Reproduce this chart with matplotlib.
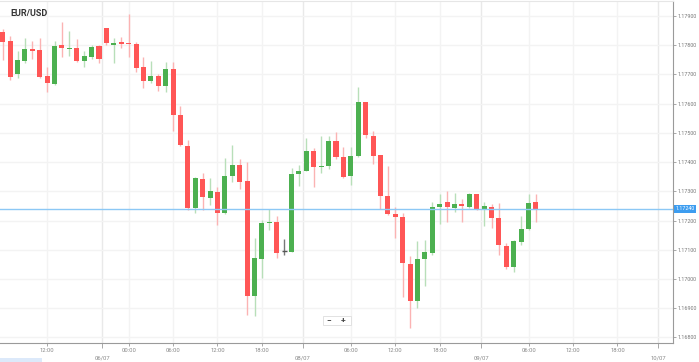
import numpy as np
import matplotlib.pyplot as plt
from matplotlib.patches import Rectangle

plt.rcParams['font.family'] = ['Roboto', 'DejaVu Sans']

# hourly EUR/USD candles
opens = [1.17846, 1.17815, 1.17701, 1.17746, 1.17787, 1.17784, 1.17695, 1.17667, 1.17801, 1.17786,
         1.17791, 1.17746, 1.17759, 1.17797, 1.17858, 1.17801, 1.17812, 1.17809, 1.17803, 1.17726,
         1.17677, 1.17696, 1.17660, 1.17718, 1.17562, 1.17456, 1.17242, 1.17342, 1.17278, 1.17299,
         1.17225, 1.17353, 1.17390, 1.17336, 1.16942, 1.17067, 1.17190, 1.17196, 1.17096, 1.17093,
         1.17358, 1.17370, 1.17438, 1.17383, 1.17388, 1.17472, 1.17416, 1.17352, 1.17421, 1.17605,
         1.17490, 1.17424, 1.17284, 1.17221, 1.17213, 1.17050, 1.16924, 1.17068, 1.17089, 1.17247,
         1.17264, 1.17244, 1.17256, 1.17245, 1.17290, 1.17236, 1.17247, 1.17207, 1.17114, 1.17040,
         1.17127, 1.17170, 1.17262]
highs = [1.17856, 1.17833, 1.17781, 1.17826, 1.17814, 1.17826, 1.17726, 1.17814, 1.17880, 1.17850,
         1.17821, 1.17781, 1.17801, 1.17801, 1.17859, 1.17826, 1.17829, 1.17907, 1.17812, 1.17759,
         1.17747, 1.17701, 1.17744, 1.17741, 1.17592, 1.17475, 1.17348, 1.17364, 1.17344, 1.17314,
         1.17413, 1.17458, 1.17409, 1.17401, 1.17139, 1.17202, 1.17238, 1.17215, 1.17137, 1.17379,
         1.17390, 1.17481, 1.17447, 1.17489, 1.17490, 1.17504, 1.17451, 1.17451, 1.17658, 1.17607,
         1.17507, 1.17425, 1.17388, 1.17247, 1.17225, 1.17078, 1.17130, 1.17133, 1.17263, 1.17290,
         1.17301, 1.17293, 1.17272, 1.17295, 1.17291, 1.17262, 1.17255, 1.17259, 1.17122, 1.17133,
         1.17216, 1.17290, 1.17290]
lows = [1.17749, 1.17681, 1.17687, 1.17738, 1.17753, 1.17687, 1.17641, 1.17665, 1.17759, 1.17764,
        1.17744, 1.17726, 1.17753, 1.17738, 1.17801, 1.17740, 1.17789, 1.17759, 1.17709, 1.17652,
        1.17670, 1.17644, 1.17641, 1.17507, 1.17456, 1.17236, 1.17225, 1.17236, 1.17253, 1.17184,
        1.17223, 1.17333, 1.17308, 1.16876, 1.16873, 1.17004, 1.17167, 1.17073, 1.17082, 1.17091,
        1.17319, 1.17368, 1.17314, 1.17364, 1.17376, 1.17410, 1.17346, 1.17321, 1.17419, 1.17481,
        1.17393, 1.17238, 1.17219, 1.17141, 1.16939, 1.16831, 1.16901, 1.16976, 1.17082, 1.17188,
        1.17196, 1.17228, 1.17196, 1.17243, 1.17236, 1.17181, 1.17173, 1.17082, 1.17034, 1.17023,
        1.17116, 1.17168, 1.17196]
closes = [1.17812, 1.17690, 1.17749, 1.17787, 1.17780, 1.17690, 1.17670, 1.17798, 1.17789, 1.17791,
          1.17746, 1.17764, 1.17793, 1.17752, 1.17809, 1.17807, 1.17804, 1.17803, 1.17723, 1.17677,
          1.17695, 1.17661, 1.17719, 1.17561, 1.17458, 1.17242, 1.17344, 1.17279, 1.17301, 1.17227,
          1.17353, 1.17390, 1.17331, 1.16942, 1.17071, 1.17192, 1.17196, 1.17088, 1.17096, 1.17358,
          1.17370, 1.17438, 1.17384, 1.17388, 1.17472, 1.17416, 1.17348, 1.17421, 1.17605, 1.17493,
          1.17422, 1.17284, 1.17221, 1.17213, 1.17053, 1.16924, 1.17068, 1.17091, 1.17246, 1.17256,
          1.17247, 1.17255, 1.17251, 1.17290, 1.17238, 1.17250, 1.17207, 1.17116, 1.17040, 1.17130,
          1.17170, 1.17261, 1.17240]

# x positions in candle units
time_ticks = [6, 17, 23, 29, 35, 47, 53, 59, 71, 77, 83]
time_labels = ['12:00', '00:00', '06:00', '12:00', '18:00', '06:00', '12:00', '18:00',
               '06:00', '12:00', '18:00']
date_ticks = [13.4, 40.5, 64.6, 88.5]
date_labels = ['06/07', '08/07', '09/07', '10/07']
price_ticks = [1.168, 1.169, 1.170, 1.171, 1.172, 1.173, 1.174, 1.175, 1.176, 1.177, 1.178, 1.179]
last_price = 1.17240

RED = '#ff5656'
GREEN = '#4cb050'

fig = plt.figure(figsize=(6.99, 3.62), dpi=100)
ax = fig.add_axes([0, 0.0525, 0.9628, 0.9447])

for x in time_ticks:
    ax.axvline(x, color='#f3f3f3', lw=1, zorder=0)
for x in date_ticks:
    ax.axvline(x, color='#e9e9e9', lw=1, zorder=0)
for p in price_ticks:
    ax.axhline(p, color='#f3f3f3', lw=1, zorder=0)

for i in range(len(opens)):
    o, h, l, c = opens[i], highs[i], lows[i], closes[i]
    if c > o:
        body, wick = GREEN, '#b8dfb9'
    elif c < o:
        body, wick = RED, '#fbb3b3'
    else:
        body, wick = '#555555', '#777777'
    ax.vlines(i, l, h, color=wick, lw=1, zorder=2)
    if c == o:
        ax.hlines(o, i - 0.34, i + 0.34, color=body, lw=1, zorder=3)
    else:
        ax.bar(i, abs(c - o), bottom=min(o, c), width=0.68, color=body, lw=0, zorder=3)

ax.axhline(last_price, color='#8cc8f5', lw=1, zorder=4)

ax.set_xlim(-0.365, 90.5)
ax.set_ylim(1.16781, 1.17951)

ax.spines['left'].set_visible(False)
ax.spines['top'].set_color('#e6e6e6')
ax.spines['right'].set_color('#9a9a9a')
ax.spines['bottom'].set_color('#9a9a9a')

ax.yaxis.tick_right()
ax.set_yticks(price_ticks)
ax.set_yticklabels(['%.5f' % p for p in price_ticks])
ax.tick_params(axis='y', length=2.5, width=0.6, color='#9a9a9a', labelsize=3.9,
               labelcolor='#777777', pad=1)

ax.set_xticks(time_ticks)
ax.set_xticklabels(time_labels)
ax.set_xticks(date_ticks, minor=True)
ax.set_xticklabels(date_labels, minor=True)
ax.tick_params(axis='x', which='major', length=2.5, width=0.6, color='#9a9a9a', labelsize=4.2,
               labelcolor='#888888', pad=1)
ax.tick_params(axis='x', which='minor', length=3.5, width=0.6, color='#9a9a9a', labelsize=4.2,
               labelcolor='#888888', pad=5.5)

ax.annotate('1.17240', xy=(1.0, last_price), xycoords=('axes fraction', 'data'),
            xytext=(1.8, 0), textcoords='offset points', ha='left', va='center',
            fontsize=3.9, color='white',
            bbox=dict(boxstyle='square,pad=0.3', fc='#3d9df0', ec='none'), zorder=6,
            annotation_clip=False)

fig.text(10 / 699, 1 - 13 / 362, 'EUR/USD', fontsize=6.5, fontweight='bold', color='#333333',
         ha='left', va='center')

# zoom buttons
fig.patches.append(Rectangle((323 / 699, 1 - 325 / 362), 28 / 699, 9 / 362,
                             transform=fig.transFigure, fc='white', ec='#dddddd', lw=0.6))
fig.text(329 / 699, 1 - 320 / 362, '\u2212', fontsize=6, color='#444444', ha='center',
         va='center', fontweight='bold')
fig.text(343 / 699, 1 - 320 / 362, '+', fontsize=6, color='#444444', ha='center',
         va='center', fontweight='bold')
fig.patches.append(Rectangle((0, 0), 42 / 699, 4 / 362, transform=fig.transFigure,
                             fc='#dce9fa', ec='none'))

fig.savefig('out.png', dpi=100)
plt.close()
